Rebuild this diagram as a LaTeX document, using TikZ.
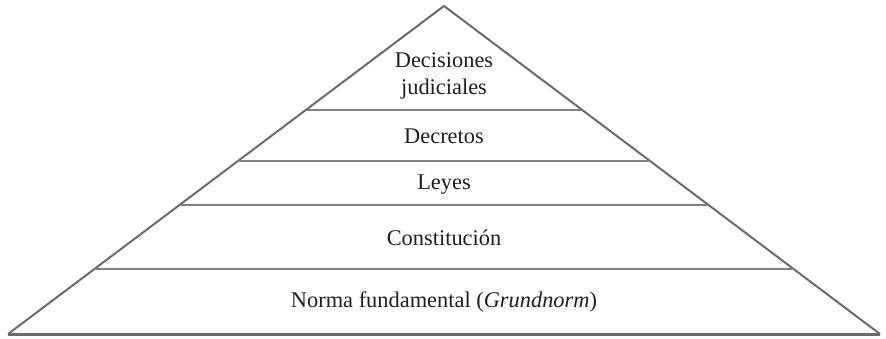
\documentclass[tikz,border=0pt]{standalone}
\usepackage{fontspec}
\setmainfont{Liberation Serif}
\usetikzlibrary{calc,positioning}

\begin{document}
\begin{tikzpicture}[x=0.5pt, y=-0.5pt,
    side/.style={draw=black!58, line width=1pt, line join=miter},
    layer/.style={draw=black!50, line width=0.75pt},
    lbl/.style={text=black!88, font=\fontsize{11.2}{13}\selectfont, align=center, inner sep=0pt}]
  \useasboundingbox (0,0) rectangle (886,338);

  \coordinate (Apex) at (444,6);
  \coordinate (BL) at (8,334);
  \coordinate (BR) at (880,334);

  \draw[side] (BL) -- (Apex) -- (BR);
  \draw[side, line width=1.5pt] (BL) -- (BR);

  \foreach \t/\n in {0.317/A, 0.4726/B, 0.6067/C, 0.8018/D}{
    \coordinate (L\n) at ($(Apex)!\t!(BL)$);
    \coordinate (R\n) at ($(Apex)!\t!(BR)$);
    \draw[layer] (L\n) -- (R\n);
  }

  \node[lbl] (Dec) at (444,76) {Decisiones\\[0.5pt]judiciales};
  \node[lbl] (Decr) at (444,136) {Decretos};
  \node[lbl] (Ley) at (444,185) {Leyes};
  \node[lbl] (Cons) at (444,238) {Constitución};
  \node[lbl] (Norma) at (444,302) {Norma fundamental (\textit{Grundnorm})};
\end{tikzpicture}
\end{document}
